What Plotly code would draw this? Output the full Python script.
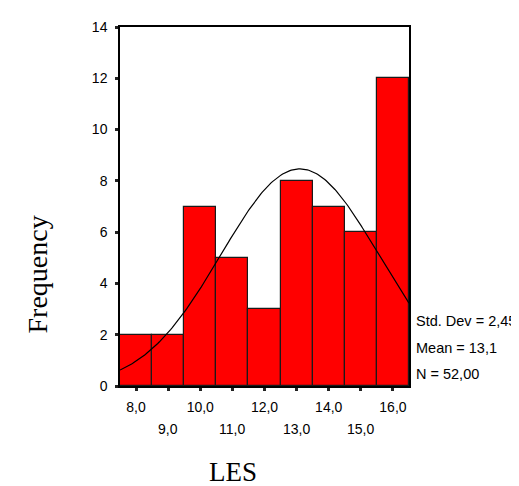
import numpy as np
import plotly.graph_objects as go

# Data
bin_centers = [8, 9, 10, 11, 12, 13, 14, 15, 16]
frequencies = [2, 2, 7, 5, 3, 8, 7, 6, 12]
upper_ticks = [8, 10, 12, 14, 16]
upper_labels = ["8,0", "10,0", "12,0", "14,0", "16,0"]
lower_ticks = [9, 11, 13, 15]
lower_labels = ["9,0", "11,0", "13,0", "15,0"]
y_ticks = [0, 2, 4, 6, 8, 10, 12, 14]
STD_DEV = 2.45
MEAN = 13.1
N = 52
BIN_WIDTH = 1.0
stats_lines = ["Std. Dev = 2,45", "Mean = 13,1", "N = 52,00"]

# Fitted normal curve from the reported statistics
xs = np.linspace(7.5, 16.5, 200)
ys = N * BIN_WIDTH / (STD_DEV * np.sqrt(2 * np.pi)) * np.exp(-0.5 * ((xs - MEAN) / STD_DEV) ** 2)

fig = go.Figure()
fig.add_trace(go.Bar(
    x=bin_centers, y=frequencies, width=BIN_WIDTH,
    marker=dict(color="#FF0000", line=dict(color="#1a1a1a", width=1.2)),
    hoverinfo="skip",
))
fig.add_trace(go.Scatter(
    x=xs, y=ys, mode="lines",
    line=dict(color="black", width=1.2),
    hoverinfo="skip",
))

W, H = 519, 486
L, R, T, B = 112, 118, 11, 108
plot_w = W - L - R
plot_h = H - T - B


def px_to_paper_x(px):
    return (px - L) / plot_w


def px_to_paper_y(py):
    return (H - B - py) / plot_h


fig.update_layout(
    width=W, height=H,
    margin=dict(l=L, r=R, t=T, b=B),
    paper_bgcolor="white", plot_bgcolor="white",
    showlegend=False, bargap=0,
    font=dict(family="Liberation Sans, Arial", size=14, color="black"),
)
fig.update_xaxes(
    range=[7.5, 16.5], showgrid=False, zeroline=False,
    showline=True, mirror=True, linecolor="black", linewidth=1.5,
    tickmode="array", tickvals=upper_ticks + lower_ticks,
    ticktext=upper_labels + [""] * len(lower_ticks),
    ticks="outside", ticklen=3, tickwidth=3, tickcolor="#222",
    ticklabelstandoff=4,
)
fig.update_yaxes(
    range=[0, 14], showgrid=False, zeroline=False,
    showline=True, mirror=True, linecolor="black", linewidth=1.5,
    tickmode="array", tickvals=y_ticks, ticktext=[str(v) for v in y_ticks],
    ticks="outside", ticklen=3, tickwidth=3, tickcolor="#222",
    ticklabelstandoff=5,
)

for v, lab in zip(lower_ticks, lower_labels):
    fig.add_annotation(x=v, xref="x", y=0, yref="paper", yanchor="middle",
                       yshift=-43, text=lab, showarrow=False,
                       font=dict(size=14))

stats_y = [312, 339, 366]
for line, sy in zip(stats_lines, stats_y):
    fig.add_annotation(x=px_to_paper_x(406), xref="paper", y=px_to_paper_y(sy), yref="paper",
                       text=line, showarrow=False, xanchor="left", yanchor="middle",
                       font=dict(size=14.5))

fig.add_annotation(x=px_to_paper_x(225), xref="paper", y=px_to_paper_y(466), yref="paper",
                   text="LES", showarrow=False, xanchor="center", yanchor="middle",
                   font=dict(family="Liberation Serif, Times New Roman", size=27))
fig.add_annotation(x=px_to_paper_x(29), xref="paper", y=px_to_paper_y(264), yref="paper",
                   text="Frequency", textangle=-90, showarrow=False,
                   xanchor="center", yanchor="middle",
                   font=dict(family="Liberation Serif, Times New Roman", size=28))

fig.write_html("out.html")
